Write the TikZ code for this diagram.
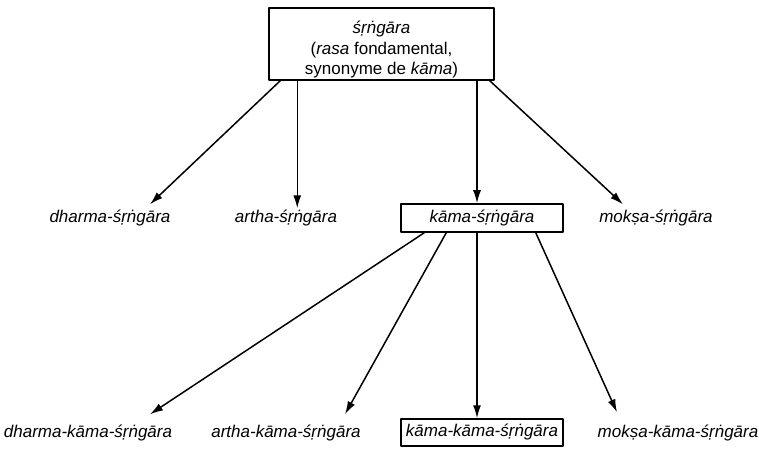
\documentclass[tikz,border=0pt]{standalone}
\usepackage{fontspec}
\setmainfont{Liberation Sans}
\usetikzlibrary{arrows.meta}

\begin{document}
\begin{tikzpicture}[x=1bp,y=-1bp,>={Latex[length=13bp,width=8bp]},line join=bevel,
  box/.style={draw,line width=1.5bp,inner sep=0pt,font=\fontsize{17bp}{20.5bp}\selectfont},
  lbl/.style={anchor=base,inner sep=2bp,font=\fontsize{17bp}{20.5bp}\selectfont\itshape},
  arr/.style={black,line width=1.5bp,->}]
\useasboundingbox (0,0) rectangle (759,449);
%%
\node (srngara) at (381.5,44) [box,minimum width=225bp,minimum height=72bp,align=center] {\rule{0pt}{24bp}\textit{śṛṅgāra}\\(\textit{rasa} fondamental,\\synonyme de \textit{kāma})};
  \node (dharma*srngara) at (110,223) [lbl] {dharma-śṛṅgāra};
  \node (artha*srngara) at (286,223) [lbl] {artha-śṛṅgāra};
  \node (kama*srngara) at (482,218) [box,minimum width=162bp,minimum height=28bp] {\itshape kāma-śṛṅgāra};
  \node (moksa*srngara) at (656,223) [lbl] {mokṣa-śṛṅgāra};
  \node (dharma*kama*srngara) at (88,437) [lbl] {dharma-kāma-śṛṅgāra};
  \node (artha*kama*srngara) at (286,437) [lbl] {artha-kāma-śṛṅgāra};
  \node (kama*kama*srngara) at (482,432.5) [box,minimum width=162bp,minimum height=27bp] {\itshape kāma-kāma-śṛṅgāra};
  \node (moksa*kama*srngara) at (678,437) [lbl] {mokṣa-kāma-śṛṅgāra};
  \draw [arr] ([xshift=12bp]srngara.south west) -- ([xshift=40bp,yshift=4bp]dharma*srngara.north);
  \draw [arr] ([xshift=29bp]srngara.south west) -- ([xshift=29bp]srngara.south west |- artha*srngara.north);
  \draw [arr] ([xshift=-5bp]kama*srngara.north |- srngara.south) -- ([xshift=-5bp]kama*srngara.north);
  \draw [arr] ([xshift=-5bp]srngara.south east) -- ([xshift=-33bp,yshift=4bp]moksa*srngara.north);
  \draw [arr] ([xshift=24bp]kama*srngara.south west) -- ([xshift=62bp,yshift=8bp]dharma*kama*srngara.north);
  \draw [arr] ([xshift=46bp]kama*srngara.south west) -- ([xshift=59bp,yshift=8bp]artha*kama*srngara.north);
  \draw [arr] ([xshift=-5bp]kama*srngara.south) -- ([xshift=-5bp]kama*kama*srngara.north);
  \draw [arr] ([xshift=-28bp]kama*srngara.south east) -- ([xshift=-61bp,yshift=10bp]moksa*kama*srngara.north);
%
\end{tikzpicture}
\end{document}
